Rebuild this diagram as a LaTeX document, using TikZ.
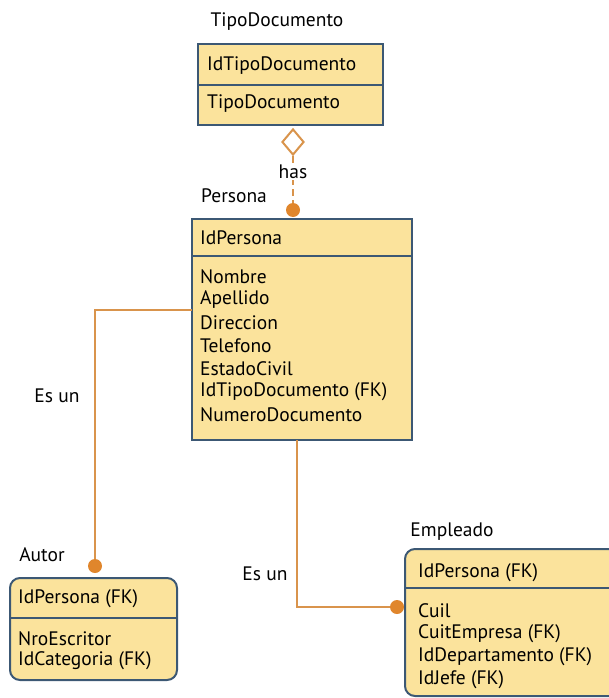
\documentclass[tikz,border=0pt]{standalone}
\usepackage{fontspec}
\setmainfont{PT Sans}
\usetikzlibrary{shapes.geometric,positioning,calc}

\definecolor{entfill}{HTML}{FBE39C}
\definecolor{entline}{HTML}{3C5874}
\definecolor{relline}{HTML}{D9944C}
\definecolor{reldot}{HTML}{E0862C}

\tikzset{
  entity/.style={draw=entline, line width=2pt, fill=entfill, inner sep=0pt},
  attr/.style={anchor=west, inner sep=0pt, font=\fontsize{19.5}{22}\selectfont},
  title/.style={inner sep=0pt, font=\fontsize{19.5}{22}\selectfont},
  rel/.style={draw=relline, line width=2.4pt},
  reldotc/.style={circle, fill=reldot, inner sep=0pt, minimum size=14pt},
}

\begin{document}
\begin{tikzpicture}[x=1pt,y=-1pt]
    \useasboundingbox (0,0) rectangle (608,698);

    % Entities
    \node[entity, minimum width=185pt, minimum height=81pt] (tipo) at (290.5,84.5) {};
    \draw[entline, line width=2pt] (198,85) -- (383,85);
    \node[entity, minimum width=220pt, minimum height=221pt] (persona) at (302,329.5) {};
    \draw[entline, line width=2pt] (192,256) -- (412,256);
    \node[entity, rounded corners=10pt, minimum width=167pt, minimum height=102pt] (autor) at (93.5,629) {};
    \draw[entline, line width=2pt] (10,618) -- (177,618);
    \node[entity, rounded corners=10pt, minimum width=215pt, minimum height=147pt] (empleado) at (512.5,622.5) {};
    \draw[entline, line width=2pt] (405,588) -- (620,588);

    % Titles
    \node[title] (ttipo) at (277,22) {TipoDocumento};
    \node[title] (tpersona) at (234,196) {Persona};
    \node[title] (tautor) at (42,555) {Autor};
    \node[title] (templeado) at (452,532) {Empleado};

    % Attributes
    \node[attr] (a1) at (207,66) {IdTipoDocumento};
    \node[attr] (a2) at (207,104) {TipoDocumento};

    \node[attr] (p0) at (200,238) {IdPersona};
    \foreach \t [count=\i] in {Nombre,Apellido,Direccion,Telefono,EstadoCivil,IdTipoDocumento (FK),NumeroDocumento}
        \node[attr] (p\i) at (200,{254+23*\i}) {\t};

    \node[attr] (u0) at (18,599) {IdPersona (FK)};
    \node[attr] (u1) at (18,639) {NroEscritor};
    \node[attr] (u2) at (18,661) {IdCategoria (FK)};

    \node[attr] (e0) at (418,573) {IdPersona (FK)};
    \foreach \t [count=\i] in {Cuil,CuitEmpresa (FK),IdDepartamento (FK),IdJefe (FK)}
        \node[attr] (e\i) at (418,{588+23*\i}) {\t};

    % Relationship TipoDocumento - Persona
    \node[diamond, draw=relline, line width=2pt, fill=white, minimum width=22pt, minimum height=26pt, inner sep=0pt] (dia) at (293,142) {};
    \node[reldotc] (dper) at (293,210) {};
    \draw[rel, dash pattern=on 7pt off 4pt] (dia.south) -- (dper);
    \node[title, fill=white, inner sep=1pt] (has) at (293,172) {has};

    % Es un (Autor)
    \coordinate (pa) at (192,310);
    \node[reldotc] (daut) at (95,566) {};
    \draw[rel] (pa) -| (daut);
    \node[title] (esun1) at (57,396) {Es un};

    % Es un (Empleado)
    \coordinate (pb) at (297,440);
    \node[reldotc] (demp) at (397,607) {};
    \draw[rel] (pb) |- (demp);
    \node[title] (esun2) at (265,574) {Es un};
\end{tikzpicture}
\end{document}
